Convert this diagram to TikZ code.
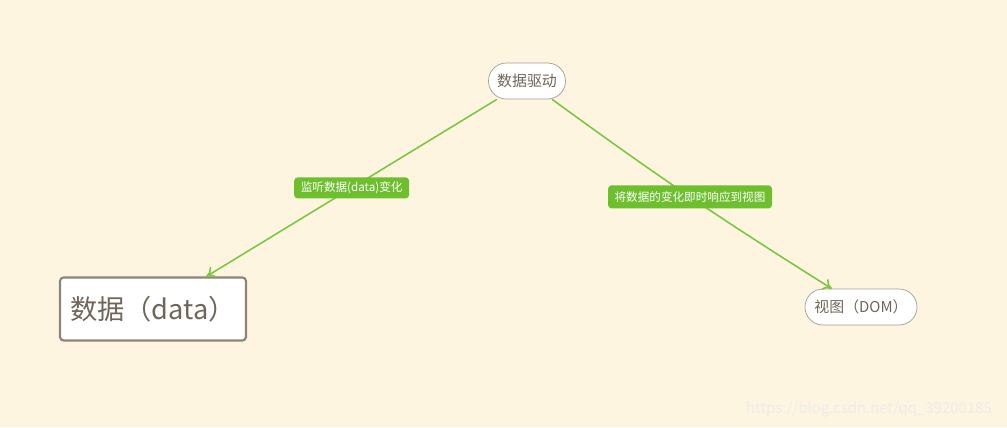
\documentclass[tikz,border=0pt]{standalone}
\usepackage{fontspec}
\setmainfont{Noto Sans CJK SC}
\usetikzlibrary{arrows.meta}
\definecolor{bg}{HTML}{FEF5E1}
\definecolor{leaf}{HTML}{7BC840}
\definecolor{tagfill}{HTML}{6DBF2E}
\definecolor{ink}{HTML}{6E6658}
\definecolor{rim}{HTML}{A39C92}
\tikzset{
  pill/.style={draw=rim, fill=white, rounded corners=10.2pt, minimum height=0.72cm, inner sep=0pt, text=ink, font=\fontsize{8.5}{10}\selectfont},
  tag/.style={fill=tagfill, rounded corners=2pt, text=white, inner sep=0pt, minimum height=0.42cm, font=\fontsize{6.6}{7}\selectfont},
  link/.style={draw=leaf, line width=0.9pt, -{To[length=5pt,width=7pt]}}
}
\begin{document}
\begin{tikzpicture}[x=0.02cm,y=-0.02cm]
\fill[bg] (0,0) rectangle (1007,427);
\node[pill, minimum width=1.54cm] (drive) at (527,81) {数据驱动};
\node[draw=ink!80, line width=1.2pt, fill=white, rounded corners=2pt, minimum width=3.72cm, minimum height=1.26cm, text=ink, font=\fontsize{15.5}{18}\selectfont] (data) at (153,309) {数据（data）};
\node[pill, minimum width=2.24cm] (view) at (861,307) {视图（DOM）};
\path[link] (drive) -- node[tag, minimum width=2.3cm] (listen) {监听数据(data)变化} (data);
\path[link] (drive) to[bend right=2] node[tag, minimum width=3.28cm, minimum height=0.46cm] (sync) {将数据的变化即时响应到视图} (view);
\node[text=white!85!gray, font=\fontsize{8.5}{10}\selectfont, anchor=east] (mark) at (998,409) {https://blog.csdn.net/qq\_39200185};
\end{tikzpicture}
\end{document}
